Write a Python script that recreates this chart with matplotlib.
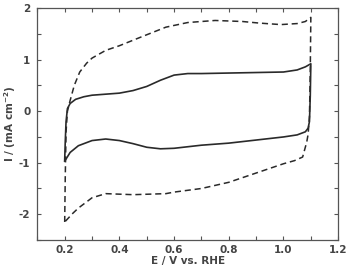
import numpy as np
import matplotlib
matplotlib.use('Agg')
import matplotlib.pyplot as plt
from matplotlib.ticker import MultipleLocator

# ===== DANE =====
# krzywa ciągła - gałąź anodowa (górna), 0.2 -> 1.1 V
solid_up_E = [0.20, 0.202, 0.205, 0.21, 0.22, 0.24, 0.27, 0.30, 0.35, 0.40, 0.45, 0.50,
              0.55, 0.60, 0.65, 0.70, 0.80, 0.90, 1.00, 1.05, 1.08, 1.10]
solid_up_I = [-0.95, -0.6, -0.2, 0.05, 0.15, 0.23, 0.28, 0.31, 0.33, 0.35, 0.40, 0.48,
              0.60, 0.70, 0.73, 0.73, 0.74, 0.75, 0.76, 0.80, 0.86, 0.92]
# krzywa ciągła - gałąź katodowa (dolna), 1.1 -> 0.2 V
solid_dn_E = [1.10, 1.098, 1.095, 1.09, 1.08, 1.05, 1.00, 0.90, 0.80, 0.70, 0.60, 0.55,
              0.50, 0.45, 0.40, 0.35, 0.30, 0.25, 0.22, 0.20]
solid_dn_I = [0.92, 0.3, -0.2, -0.33, -0.40, -0.46, -0.50, -0.56, -0.62, -0.66, -0.72, -0.73,
              -0.70, -0.63, -0.57, -0.54, -0.57, -0.67, -0.80, -0.97]

# krzywa przerywana - gałąź anodowa
dash_up_E = [0.20, 0.202, 0.205, 0.21, 0.22, 0.235, 0.255, 0.28, 0.30, 0.35, 0.40, 0.475,
             0.57, 0.65, 0.75, 0.85, 0.91, 0.99, 1.05, 1.08, 1.10]
dash_up_I = [-2.15, -1.3, -0.4, 0.0, 0.21, 0.50, 0.76, 0.93, 1.03, 1.18, 1.27, 1.43,
             1.63, 1.72, 1.76, 1.74, 1.71, 1.68, 1.70, 1.74, 1.82]
# krzywa przerywana - gałąź katodowa
dash_dn_E = [1.10, 1.098, 1.095, 1.09, 1.085, 1.07, 1.04, 1.00, 0.90, 0.80, 0.70, 0.60,
             0.57, 0.45, 0.35, 0.30, 0.28, 0.25, 0.23, 0.20]
dash_dn_I = [1.82, 0.8, -0.1, -0.45, -0.60, -0.89, -0.96, -1.02, -1.20, -1.38, -1.50, -1.57,
             -1.60, -1.62, -1.60, -1.68, -1.76, -1.88, -1.98, -2.15]

x_ticks = [0.2, 0.4, 0.6, 0.8, 1.0, 1.2]
y_ticks = [-2, -1, 0, 1, 2]

# ===== WYKRES =====
ink = '#444444'
fig = plt.figure(figsize=(3.49, 2.70), dpi=100)
ax = fig.add_axes([0.107, 0.111, 0.862, 0.859])

ax.plot(solid_up_E + solid_dn_E, solid_up_I + solid_dn_I, color='#2a2a2a', lw=1.2)
ax.plot(dash_up_E + dash_dn_E, dash_up_I + dash_dn_I, color='#2a2a2a', lw=1.1,
        dashes=(4, 2.5))

ax.set_xlim(0.1, 1.2)
ax.set_ylim(-2.5, 2.0)
ax.set_xticks(x_ticks)
ax.set_yticks(y_ticks)
ax.set_xticklabels(['%.1f' % v for v in x_ticks])
ax.set_yticklabels(['%d' % v for v in y_ticks])
ax.xaxis.set_minor_locator(MultipleLocator(0.1))
ax.yaxis.set_minor_locator(MultipleLocator(0.5))
ax.tick_params(which='both', direction='in', top=True, right=True, length=3,
               color='#555555', labelsize=7.5, labelcolor=ink, width=0.8)
ax.tick_params(axis='y', pad=5)
for lbl in ax.get_xticklabels() + ax.get_yticklabels():
    lbl.set_fontweight('bold')
for s in ax.spines.values():
    s.set_color('#555555')
    s.set_linewidth(0.9)

ax.set_xlabel('E / V vs. RHE', fontsize=7.5, fontweight='bold', color=ink, labelpad=1)
ax.set_ylabel('I / (mA cm$^{\\mathbf{-2}}$)', fontsize=7.5, fontweight='bold', color=ink, labelpad=1)

fig.savefig('out.png', dpi=100)
